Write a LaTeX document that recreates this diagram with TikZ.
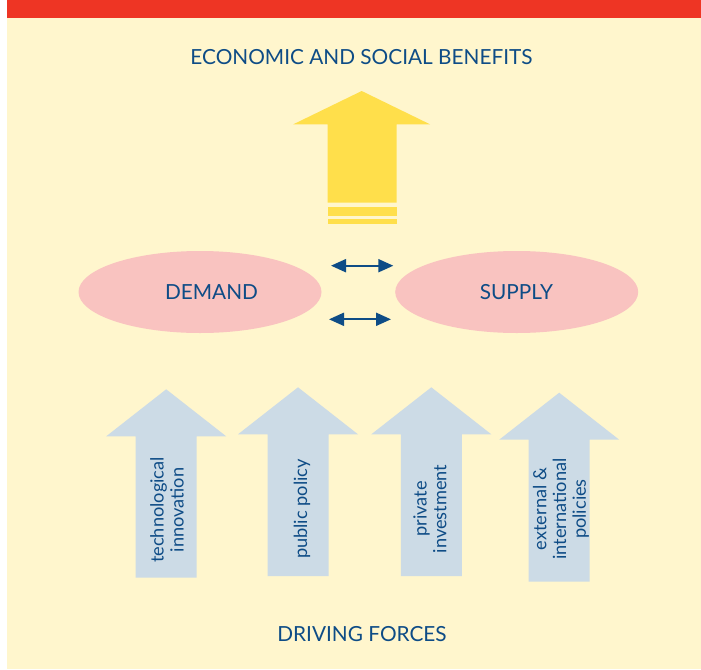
\documentclass[tikz,border=0pt]{standalone}
\usepackage{fontspec}
\setmainfont{Lato}
\usetikzlibrary{arrows.meta,shapes.geometric,positioning}
\definecolor{bannerred}{RGB}{238,53,36}
\definecolor{cream}{RGB}{255,246,205}
\definecolor{textblue}{RGB}{14,76,134}
\definecolor{benefityellow}{RGB}{255,223,75}
\definecolor{marketpink}{RGB}{249,195,192}
\definecolor{forceblue}{RGB}{204,219,230}

% one up-arrow of the driving forces: #1 centre x, #2 tip y, #3 foot y
\newcommand{\forcearrow}[3]{%
  \fill[forceblue] (#1,#2) -- ++(60,47) -- ++(-29.5,0) -- ++(0,#3-#2-47)
    -- ++(-61,0) -- ++(0,-#3+#2+47) -- ++(-29.5,0) -- cycle;}

\begin{document}
\begin{tikzpicture}[x=1pt,y=-1pt,
    heading/.style={text=textblue,font=\fontsize{20.8}{24}\selectfont},
    market/.style={ellipse,fill=marketpink,minimum width=243pt,minimum height=82pt,inner sep=0pt},
    force/.style={text=textblue,rotate=90,align=center,font=\fontsize{18.2}{19.8}\selectfont},
    swap/.style={{Triangle[length=15pt,width=13pt]}-{Triangle[length=15pt,width=13pt]},line width=2pt,draw=textblue}]
    \useasboundingbox (0,0) rectangle (701,669);

    % Background and banner
    \fill[cream] (7,18) rectangle (701,669);
    \fill[bannerred] (7,0) rectangle (701,18);

    % Benefits
    \node[heading] (benefits) at (361.5,57) {ECONOMIC AND SOCIAL BENEFITS};
    \fill[benefityellow] (361.7,91) -- (430,124.3) -- (396.7,124.3) -- (396.7,202.7)
        -- (327.7,202.7) -- (327.7,124.3) -- (293.3,124.3) -- cycle;
    \fill[benefityellow] (327.7,206.7) rectangle (396.7,215.7);
    \fill[benefityellow] (327.7,219) rectangle (396.7,224);

    % Demand and supply
    \node[market] (demand) at (200,292) {};
    \node[heading] (demandtext) at (211.5,292) {DEMAND};
    \node[market] (supply) at (516.7,292) {};
    \node[heading] (supplytext) at (516.5,292) {SUPPLY};

    % Interaction
    \coordinate (swapAw) at (331,265.7);
    \coordinate (swapAe) at (393.3,265.7);
    \coordinate (swapBw) at (329,319.3);
    \coordinate (swapBe) at (391,319.3);
    \draw[swap] (swapAw) -- (swapAe);
    \draw[swap] (swapBw) -- (swapBe);

    % Driving forces
    \forcearrow{166.2}{389.3}{577.7}
    \forcearrow{298}{387.3}{576}
    \forcearrow{431.3}{387.3}{576}
    \forcearrow{559.2}{392.7}{581.7}
    \node[force] (techno) at (167,510) {technological\\innovation};
    \node[force] (policy) at (302,509) {public policy};
    \node[force] (invest) at (430,509) {private\\investment};
    \node[force] (external) at (561,509) {external \&\\international\\policies};

    \node[heading] (forces) at (362,634) {DRIVING FORCES};
\end{tikzpicture}
\end{document}
